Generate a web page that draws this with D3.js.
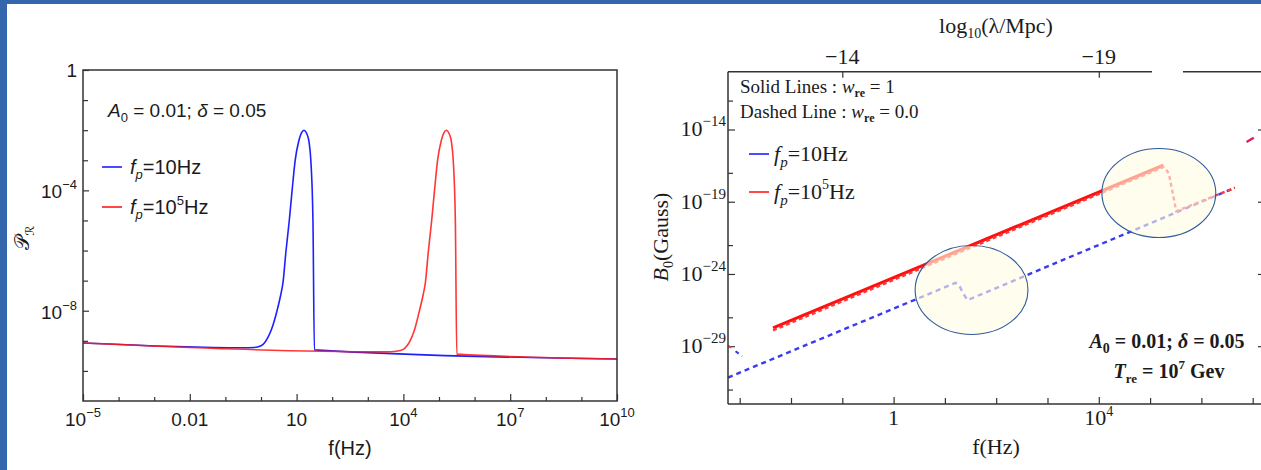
<!DOCTYPE html>
<html>
<head>
<meta charset="utf-8">
<script src="https://cdn.jsdelivr.net/npm/d3@7"></script>
<style>
  html, body { margin: 0; padding: 0; background: #fff; }
  svg { display: block; }
</style>
</head>
<body>
<svg id="fig" width="1261" height="470"></svg>
<script>
// ---------- Left panel: curvature power spectrum P_R versus f ----------
const prFreqBlue = [1e-5, 0.316, 0.631, 1.0, 1.26, 1.58, 2.0, 2.82, 3.55, 4.17, 5.01, 6.17, 7.41, 9.12,
                    11.7, 13.8, 16.2, 19.1, 22.4, 25.1, 28.8, 31.6, 1e10];
const prValBlue  = [8.5e-10, 5.9e-10, 6.0e-10, 6.9e-10, 8.7e-10, 1.32e-9, 2.5e-9, 1e-8, 3.2e-8, 9.1e-8, 9.1e-7, 8.9e-6, 8.9e-5, 1e-3,
                    4.7e-3, 8.3e-3, 1e-2, 7.9e-3, 4e-3, 1e-3, 1e-5, 5e-10, 2.5e-10];
const prFreqRed  = [1e-5, 3162, 6310, 1e4, 1.26e4, 1.58e4, 2e4, 2.82e4, 3.55e4, 4.17e4, 5.01e4, 6.17e4, 7.41e4, 9.12e4,
                    1.17e5, 1.38e5, 1.62e5, 1.91e5, 2.24e5, 2.51e5, 2.88e5, 3.16e5, 1e10];
const prValRed   = [8.5e-10, 4.3e-10, 4.5e-10, 5.2e-10, 6.8e-10, 1.05e-9, 2.1e-9, 1e-8, 3.2e-8, 9.1e-8, 9.1e-7, 8.9e-6, 8.9e-5, 1e-3,
                    4.7e-3, 8.3e-3, 1e-2, 7.9e-3, 4e-3, 1e-3, 1e-5, 3.6e-10, 2.5e-10];
const leftXTicks      = [1e-5, 1e-2, 1e1, 1e4, 1e7, 1e10];
const leftXTickLabels = [["10", "−5"], ["0.01", ""], ["10", ""], ["10", "4"], ["10", "7"], ["10", "10"]];
const leftXMinor      = [1e-4, 1e-3, 1e-1, 1, 100, 1000, 1e5, 1e6, 1e8, 1e9];
const leftYTicks      = [1, 1e-4, 1e-8];
const leftYTickLabels = [["1", ""], ["10", "−4"], ["10", "−8"]];
const leftYMinor      = [1e-1, 1e-2, 1e-3, 1e-5, 1e-6, 1e-7, 1e-9, 1e-10];

// ---------- Right panel: magnetic field B0 versus f ----------
const bFreqBlueDash = [5.92e-4, 16.2, 19.3, 22.4, 27.5, 4.52e6];
const bValBlueDash  = [6.8e-32, 2.45e-25, 1.45e-25, 5.0e-26, 1.55e-26, 9.3e-19];
const bFreqRedSolid = [4.47e-3, 1.81e5];
const bValRedSolid  = [1.86e-28, 3.3e-17];
const bFreqRedDash  = [4.47e-3, 1.81e5, 2.16e5, 2.34e5, 3.24e5, 4.52e6];
const bValRedDash   = [1.26e-28, 2.5e-17, 1.32e-17, 7.9e-18, 2.2e-20, 9.3e-19];
const bFreqRedTail  = [7.59e6, 1.05e7];
const bValRedTail   = [1.35e-15, 2.7e-15];
const bFreqRedStub  = [5.92e-4, 6.76e-4];
const bValRedStub   = [1.12e-29, 7.9e-30];
const bFreqBlueStub = [8.3e-4, 1.12e-3];
const bValBlueStub  = [4.5e-30, 2e-30];
const rightXTicks      = [1, 1e4];
const rightXTickLabels = [["1", ""], ["10", "4"]];
const rightXMinor      = [1e-3, 1e-2, 1e-1, 10, 100, 1000, 1e5, 1e6, 1e7];
const rightYTicks      = [1e-14, 1e-19, 1e-24, 1e-29];
const rightYTickLabels = [["10", "−14"], ["10", "−19"], ["10", "−24"], ["10", "−29"]];
const rightYMinor      = [1e-12, 1e-17, 1e-22, 1e-27, 1e-32];
const lambdaTicks      = [-14, -19];
// highlighted regions: centre frequency, centre field, half-extent in decades (x, y)
const hlFreq   = [33.1, 1.48e5];
const hlField  = [7.8e-26, 4.0e-19];
const hlSpanX  = [1.10, 1.11];
const hlSpanY  = [3.08, 3.08];

const svg = d3.select("#fig");
const INK = "#1b1b1b";
const BLUE = "#1f1fff";
const RED = "#ff1a1a";

// slide frame
svg.append("rect").attr("x", 0).attr("y", 0).attr("width", 1261).attr("height", 4).attr("fill", "#3366ad");
svg.append("rect").attr("x", 0).attr("y", 0).attr("width", 7).attr("height", 470).attr("fill", "#3366ad");

// rich text helper: parts = [{t, size, shift, it, bold}]
function rich(g, x, y, parts, opts = {}) {
  const t = g.append("text").attr("x", x).attr("y", y)
    .attr("font-family", opts.family).attr("font-size", opts.size)
    .attr("fill", opts.fill || INK)
    .attr("text-anchor", opts.anchor || "start");
  if (opts.weight) t.attr("font-weight", opts.weight);
  if (opts.transform) t.attr("transform", opts.transform);
  let cur = 0;
  parts.forEach(p => {
    const shift = p.shift || 0;
    const ts = t.append("tspan").text(p.t).attr("dy", shift - cur);
    cur = shift;
    if (p.size) ts.attr("font-size", p.size);
    if (p.it) ts.attr("font-style", "italic");
    if (p.bold) ts.attr("font-weight", "bold");
  });
  return t;
}

// ===================== LEFT PANEL =====================
const SANS = "'Liberation Sans', Arial, sans-serif";
const L = { left: 83, right: 617, top: 70, bottom: 401 };
const xL = d3.scaleLog().domain([1e-5, 1e10]).range([L.left, L.right]);
const yL = d3.scaleLog().domain([1e-11, 1]).range([L.bottom, L.top]);
const gL = svg.append("g");

// ticks (inward)
function tickAxis(g, axis, transform) {
  const a = g.append("g").attr("transform", transform).call(axis);
  a.select(".domain").remove();
  a.selectAll(".tick line").attr("stroke", "#333").attr("stroke-width", 1.2);
  a.selectAll(".tick text").remove();
  return a;
}
tickAxis(gL, d3.axisBottom(xL).tickValues(leftXTicks).tickSize(-7), `translate(0,${L.bottom})`);
tickAxis(gL, d3.axisBottom(xL).tickValues(leftXMinor).tickSize(-4), `translate(0,${L.bottom})`);
tickAxis(gL, d3.axisLeft(yL).tickValues(leftYTicks).tickSize(-6), `translate(${L.left},0)`);
tickAxis(gL, d3.axisLeft(yL).tickValues(leftYMinor).tickSize(-5), `translate(${L.left},0)`);

// tick labels
leftXTicks.forEach((v, i) => {
  const [b, e] = leftXTickLabels[i];
  const parts = [{ t: b }];
  if (e) parts.push({ t: e, size: 13, shift: -9 });
  rich(gL, xL(v), L.bottom + 25, parts, { family: SANS, size: 19, anchor: "middle" });
});
leftYTicks.forEach((v, i) => {
  const [b, e] = leftYTickLabels[i];
  const parts = [{ t: b }];
  if (e) parts.push({ t: e, size: 13, shift: -9 });
  rich(gL, L.left - 6, yL(v) + (e ? 8 : 7), parts, { family: SANS, size: 19, anchor: "end" });
});

// curves
const lineL = d3.line().x(d => xL(d[0])).y(d => yL(d[1])).curve(d3.curveMonotoneX);
gL.append("path").datum(d3.zip(prFreqBlue, prValBlue)).attr("d", lineL)
  .attr("fill", "none").attr("stroke", BLUE).attr("stroke-width", 1.6);
gL.append("path").datum(d3.zip(prFreqRed, prValRed)).attr("d", lineL)
  .attr("fill", "none").attr("stroke", RED).attr("stroke-width", 1.6).attr("stroke-opacity", 0.88);

// frame
gL.append("rect").attr("x", L.left).attr("y", L.top).attr("width", L.right - L.left).attr("height", L.bottom - L.top)
  .attr("fill", "none").attr("stroke", "#333").attr("stroke-width", 1.5);

// annotations
rich(gL, 108, 117, [{ t: "A", it: true }, { t: "0", size: 13, shift: 5 }, { t: " = 0.01; " }, { t: "δ", it: true }, { t: " = 0.05" }],
  { family: SANS, size: 19 });
const legL = [[BLUE, "10", ""], [RED, "10", "5"]];
legL.forEach((d, i) => {
  const y = 167 + i * 40;
  gL.append("line").attr("x1", 102).attr("x2", 122).attr("y1", y).attr("y2", y).attr("stroke", d[0]).attr("stroke-width", 1.6);
  const parts = [{ t: "f", it: true }, { t: "p", it: true, size: 13, shift: 5 }, { t: "=" + d[1] }];
  if (d[2]) parts.push({ t: d[2], size: 13, shift: -9 });
  parts.push({ t: "Hz" });
  rich(gL, 130, y + 7, parts, { family: SANS, size: 20 });
});
rich(gL, 350, 455, [{ t: "f(Hz)" }], { family: SANS, size: 20, anchor: "middle" });
rich(gL, 0, 0, [{ t: "𝒫" }, { t: "ℛ", size: 12, shift: 5 }],
  { family: "'DejaVu Serif', 'DejaVu Sans', serif", size: 20, anchor: "middle", transform: "translate(29,238) rotate(-90)" });

// ===================== RIGHT PANEL =====================
const SERIF = "'Liberation Serif', 'Times New Roman', serif";
const R = { left: 728, right: 1265, top: 71.7, bottom: 404 };
const xR = d3.scaleLog().domain([Math.pow(10, -3.228), Math.pow(10, 7.24)]).range([R.left, R.right]);
const yR = d3.scaleLog().domain([1e-33, 1e-10]).range([R.bottom, R.top]);
const lamR = d3.scaleLinear().domain([-11.772, -22.24]).range([R.left, R.right]);
const gR = svg.append("g");

tickAxis(gR, d3.axisBottom(xR).tickValues(rightXTicks).tickSize(-7), `translate(0,${R.bottom})`);
tickAxis(gR, d3.axisBottom(xR).tickValues(rightXMinor).tickSize(-6), `translate(0,${R.bottom})`);
tickAxis(gR, d3.axisLeft(yR).tickValues(rightYTicks).tickSize(-7), `translate(${R.left},0)`);
tickAxis(gR, d3.axisLeft(yR).tickValues(rightYMinor).tickSize(-5), `translate(${R.left},0)`);
tickAxis(gR, d3.axisRight(yR).tickValues(rightYTicks).tickSize(-7), `translate(${R.right},0)`);
tickAxis(gR, d3.axisTop(lamR).tickValues(lambdaTicks).tickSize(-6), `translate(0,${R.top})`);

rightXTicks.forEach((v, i) => {
  const [b, e] = rightXTickLabels[i];
  const parts = [{ t: b }];
  if (e) parts.push({ t: e, size: 14, shift: -9 });
  rich(gR, xR(v), R.bottom + 21, parts, { family: SERIF, size: 22, anchor: "middle" });
});
rightYTicks.forEach((v, i) => {
  const [b, e] = rightYTickLabels[i];
  rich(gR, R.left - 2, yR(v) + 7, [{ t: b }, { t: e, size: 15, shift: -10 }], { family: SERIF, size: 22, anchor: "end" });
});
lambdaTicks.forEach(v => {
  rich(gR, lamR(v), R.top - 8, [{ t: "−" + Math.abs(v) }], { family: SERIF, size: 22, anchor: "middle" });
});

// curves
const lineR = d3.line().x(d => xR(d[0])).y(d => yR(d[1]));
gR.append("path").datum(d3.zip(bFreqBlueDash, bValBlueDash)).attr("d", lineR)
  .attr("fill", "none").attr("stroke", "#3a3af2").attr("stroke-width", 2.4).attr("stroke-dasharray", "5,4");
gR.append("path").datum(d3.zip(bFreqRedSolid, bValRedSolid)).attr("d", lineR)
  .attr("fill", "none").attr("stroke", "#ff1010").attr("stroke-width", 3.2);
gR.append("path").datum(d3.zip(bFreqRedDash, bValRedDash)).attr("d", lineR)
  .attr("fill", "none").attr("stroke", "#ff3838").attr("stroke-width", 2.4).attr("stroke-dasharray", "4,3");
gR.append("path").datum(d3.zip(bFreqRedTail, bValRedTail)).attr("d", lineR)
  .attr("fill", "none").attr("stroke", "#e8175d").attr("stroke-width", 2.4);
gR.append("path").datum(d3.zip(bFreqRedStub, bValRedStub)).attr("d", lineR)
  .attr("fill", "none").attr("stroke", "#ff3838").attr("stroke-width", 2);
gR.append("path").datum(d3.zip(bFreqBlueStub, bValBlueStub)).attr("d", lineR)
  .attr("fill", "none").attr("stroke", "#3a3af2").attr("stroke-width", 2).attr("stroke-dasharray", "4,4");

// highlighted regions
hlFreq.forEach((f, i) => {
  const cx = xR(f), cy = yR(hlField[i]);
  const rx = xR(f * Math.pow(10, hlSpanX[i])) - cx;
  const ry = cy - yR(hlField[i] * Math.pow(10, hlSpanY[i]));
  gR.append("ellipse").attr("cx", cx).attr("cy", cy).attr("rx", rx).attr("ry", ry)
    .attr("fill", "#fffce2").attr("fill-opacity", 0.62).attr("stroke", "#2f5a9c").attr("stroke-width", 1.1);
});

// frame (left, bottom, top with a break)
gR.append("line").attr("x1", R.left).attr("x2", R.left).attr("y1", R.top).attr("y2", R.bottom).attr("stroke", "#333").attr("stroke-width", 1.5);
gR.append("line").attr("x1", R.left).attr("x2", R.right).attr("y1", R.bottom).attr("y2", R.bottom).attr("stroke", "#333").attr("stroke-width", 1.5);
gR.append("line").attr("x1", R.left).attr("x2", 1152).attr("y1", R.top).attr("y2", R.top).attr("stroke", "#333").attr("stroke-width", 1.5);
gR.append("line").attr("x1", 1183).attr("x2", R.right).attr("y1", R.top).attr("y2", R.top).attr("stroke", "#333").attr("stroke-width", 1.5);

// labels
rich(gR, 740, 93, [{ t: "Solid Lines : " }, { t: "w", it: true }, { t: "re", size: 12, shift: 4, bold: true }, { t: " = 1" }],
  { family: SERIF, size: 19 });
rich(gR, 740, 118, [{ t: "Dashed Line : " }, { t: "w", it: true }, { t: "re", size: 12, shift: 4, bold: true }, { t: " = 0.0" }],
  { family: SERIF, size: 19 });
const legR = [[BLUE, "10", ""], [RED, "10", "5"]];
legR.forEach((d, i) => {
  const y = 154 + i * 38;
  gR.append("line").attr("x1", 749).attr("x2", 769).attr("y1", y).attr("y2", y).attr("stroke", d[0]).attr("stroke-width", 1.6);
  const parts = [{ t: "f", it: true }, { t: "p", it: true, size: 15, shift: 6 }, { t: "=" + d[1] }];
  if (d[2]) parts.push({ t: d[2], size: 14, shift: -10 });
  parts.push({ t: "Hz" });
  rich(gR, 774, y + 7, parts, { family: SERIF, size: 22 });
});
rich(gR, 996, 33, [{ t: "log" }, { t: "10", size: 14, shift: 5 }, { t: "(λ/Mpc)" }], { family: SERIF, size: 22, anchor: "middle" });
rich(gR, 996, 454, [{ t: "f(Hz)" }], { family: SERIF, size: 22, anchor: "middle" });
rich(gR, 0, 0, [{ t: "B", it: true }, { t: "0", size: 14, shift: 5 }, { t: "(Gauss)" }],
  { family: SERIF, size: 22, anchor: "middle", transform: "translate(668,237) rotate(-90)" });
rich(gR, 1167, 348, [{ t: "A", it: true }, { t: "0", size: 14, shift: 5 }, { t: " = 0.01; " }, { t: "δ", it: true }, { t: " = 0.05" }],
  { family: SERIF, size: 20, anchor: "middle", weight: "bold" });
rich(gR, 1169, 378, [{ t: "T", it: true }, { t: "re", size: 13, shift: 5 }, { t: " = 10" }, { t: "7", size: 13, shift: -9 }, { t: " Gev" }],
  { family: SERIF, size: 20, anchor: "middle", weight: "bold" });
</script>
</body>
</html>
